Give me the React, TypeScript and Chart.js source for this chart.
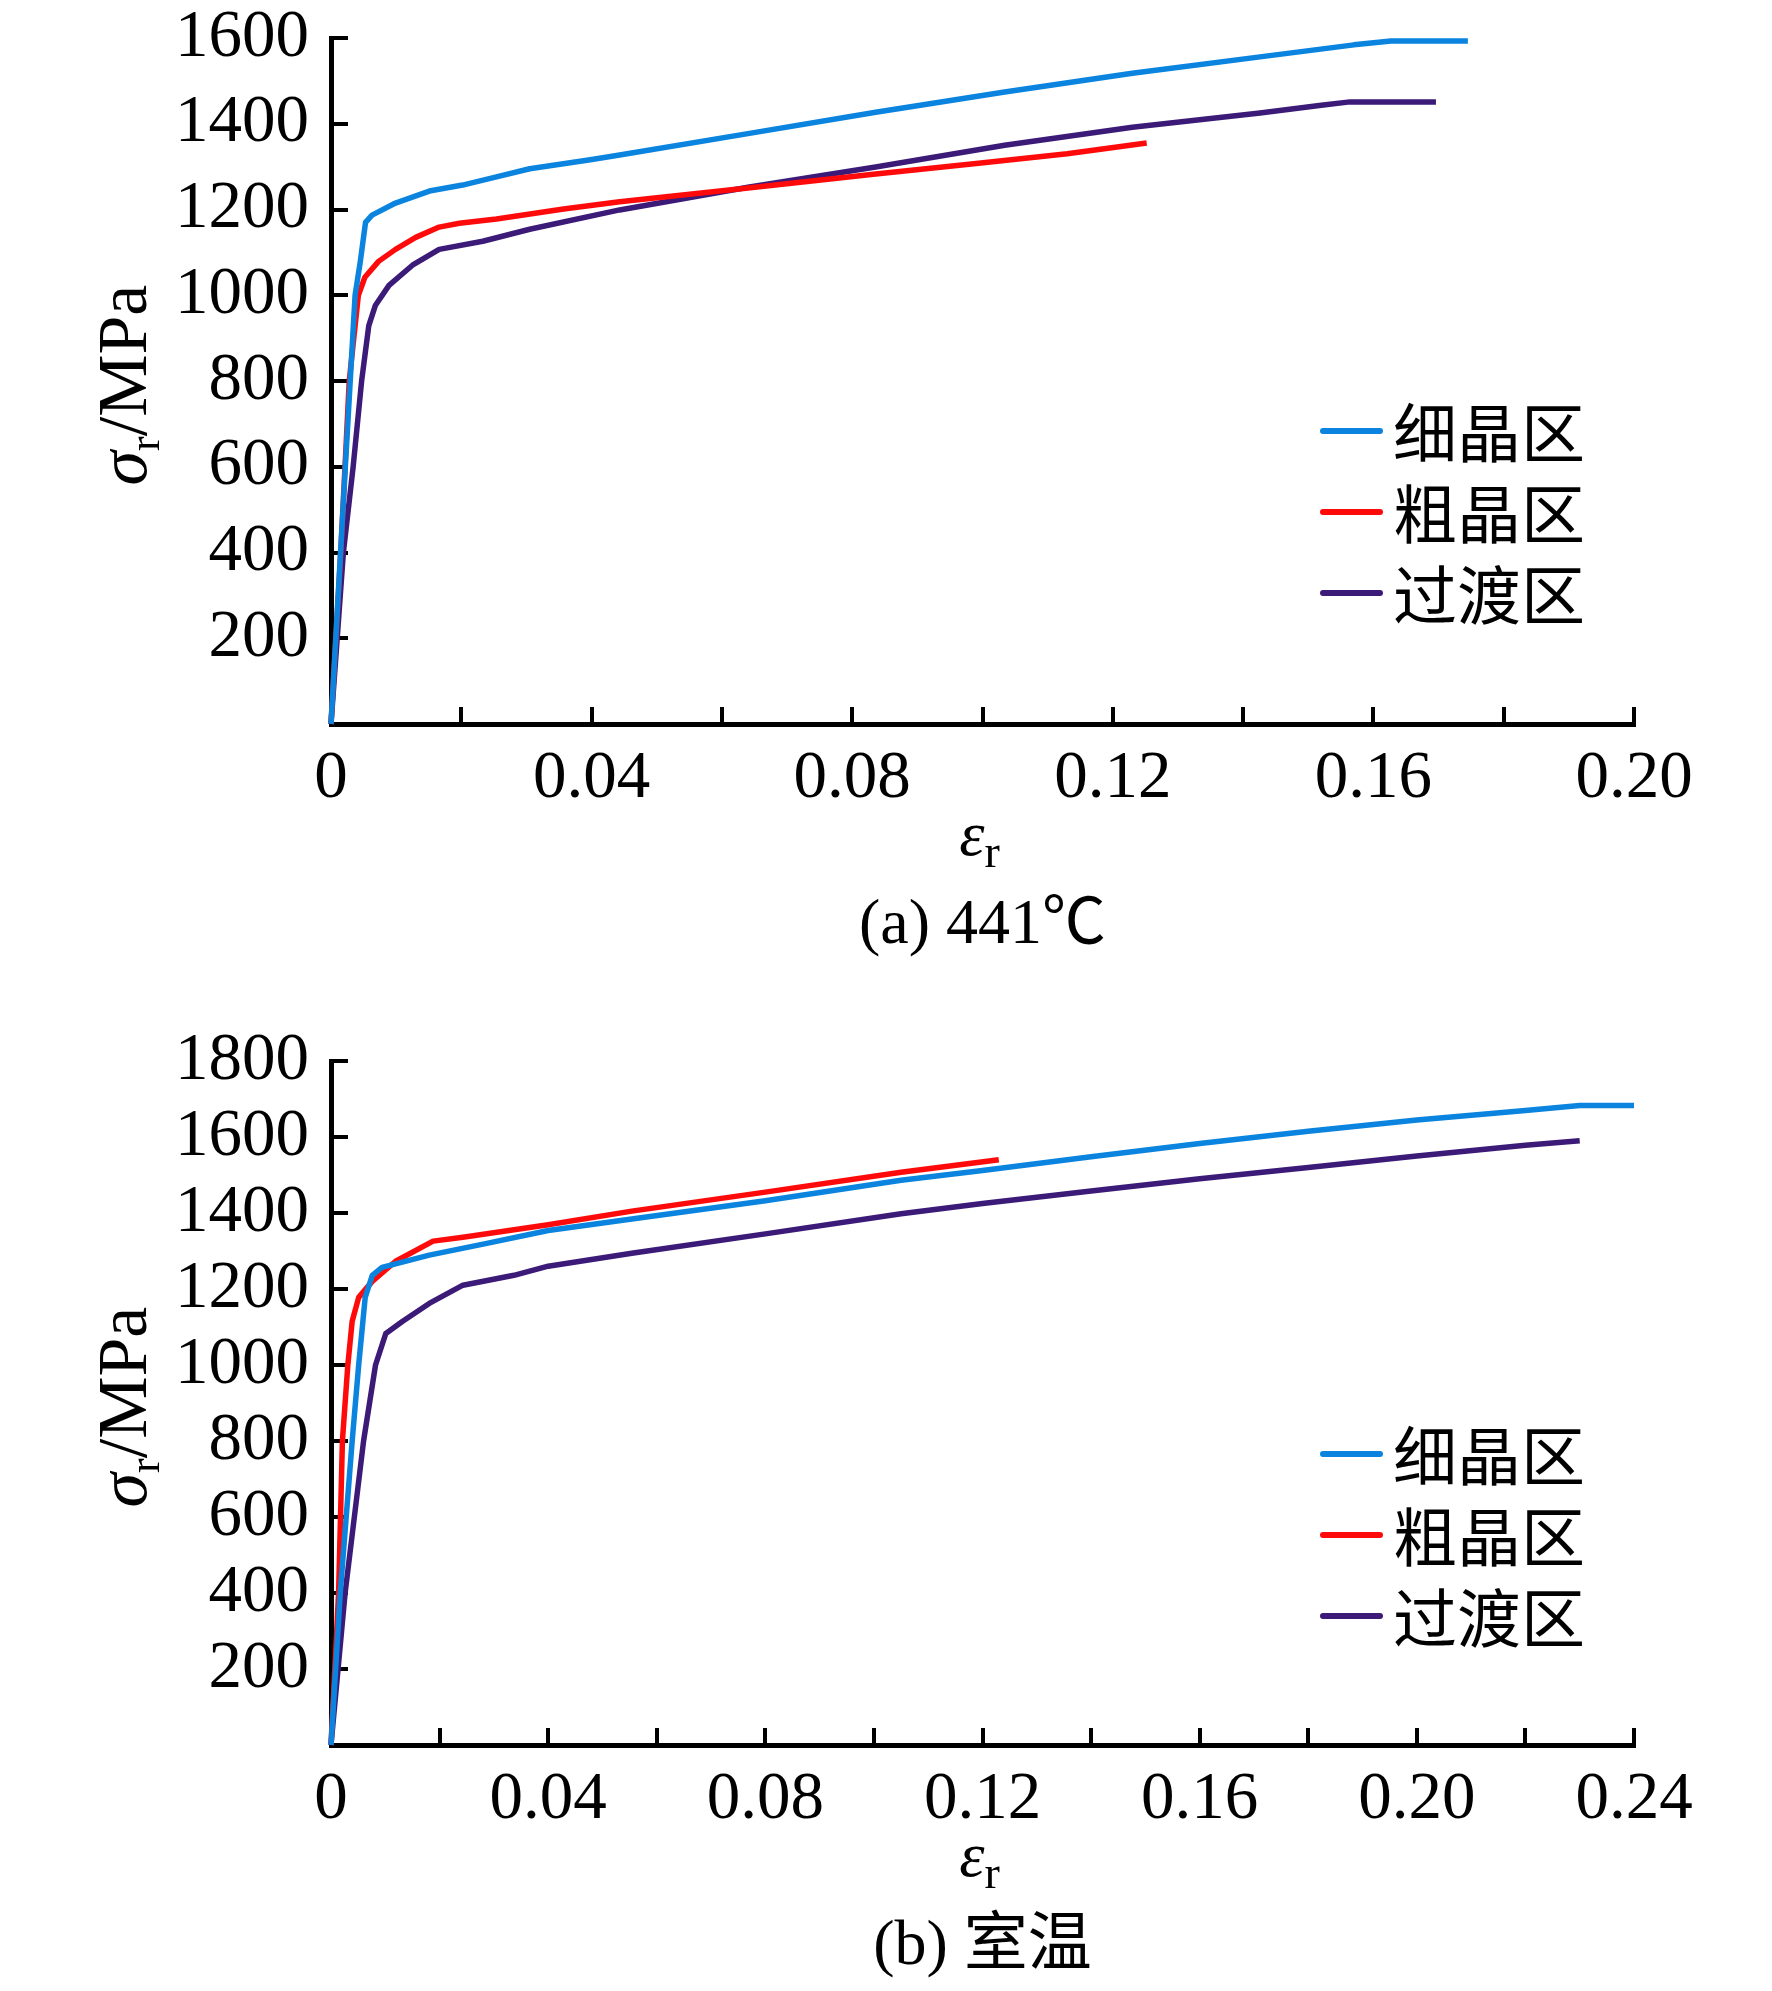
import { useEffect, useRef } from "react";
import { Chart, registerables, type Plugin } from "chart.js";

Chart.register(...registerables);

const SERIF = "'Liberation Serif', 'Times New Roman', serif";
const CJK = "'Noto Sans CJK SC', sans-serif";

const seriesNames = ["细晶区", "粗晶区", "过渡区"];
const seriesColors = ["#0A84DE", "#FF0A0A", "#3C1A78"];

// (a) 441 ℃ — strain / stress (MPa)
const fineStrainA = [0, 0.0022, 0.0037, 0.0045, 0.0053, 0.0063, 0.0099, 0.0151, 0.0202, 0.0254, 0.0305, 0.0398, 0.0443, 0.064, 0.0836, 0.1034, 0.123, 0.1426, 0.157, 0.1627, 0.1745];
const fineStressA = [0, 600, 1000, 1079, 1170, 1187, 1215, 1243, 1257, 1276, 1295, 1316, 1327, 1377, 1427, 1474, 1518, 1556, 1584, 1593, 1593];
const coarseStrainA = [0, 0.0015, 0.0028, 0.0042, 0.0052, 0.0073, 0.0099, 0.013, 0.0166, 0.0197, 0.0254, 0.0357, 0.0443, 0.064, 0.0836, 0.0994, 0.113, 0.1252];
const coarseStressA = [0, 400, 800, 1000, 1042, 1079, 1107, 1135, 1159, 1168, 1178, 1201, 1218, 1250, 1283, 1308, 1330, 1355];
const transStrainA = [0, 0.0019, 0.0034, 0.0047, 0.0058, 0.0068, 0.0089, 0.0125, 0.0166, 0.0233, 0.0305, 0.0443, 0.064, 0.0836, 0.1034, 0.123, 0.1426, 0.152, 0.1564, 0.1696];
const transStressA = [0, 400, 600, 800, 929, 976, 1023, 1070, 1107, 1126, 1154, 1199, 1252, 1299, 1350, 1392, 1425, 1443, 1451, 1451];

// (b) 室温 — strain / stress (MPa)
const fineStrainB = [0, 0.0017, 0.0039, 0.0051, 0.0063, 0.0076, 0.0094, 0.0181, 0.0287, 0.04, 0.0554, 0.08, 0.105, 0.12, 0.14, 0.16, 0.18, 0.2, 0.22, 0.23, 0.24];
const fineStressB = [0, 400, 800, 1000, 1178, 1236, 1257, 1289, 1320, 1354, 1384, 1432, 1486, 1512, 1548, 1583, 1615, 1645, 1670, 1683, 1683];
const coarseStrainB = [0, 0.0014, 0.0021, 0.0031, 0.0039, 0.0051, 0.0076, 0.0119, 0.0188, 0.0243, 0.04, 0.0554, 0.08, 0.105, 0.123];
const coarseStressB = [0, 400, 800, 1000, 1115, 1178, 1220, 1273, 1326, 1336, 1369, 1405, 1455, 1507, 1540];
const transStrainB = [0, 0.0026, 0.006, 0.0082, 0.0101, 0.0132, 0.0181, 0.0243, 0.0337, 0.04, 0.0554, 0.08, 0.105, 0.12, 0.14, 0.16, 0.18, 0.2, 0.22, 0.23];
const transStressB = [0, 400, 800, 1000, 1083, 1115, 1162, 1210, 1236, 1260, 1294, 1345, 1398, 1425, 1458, 1490, 1520, 1550, 1578, 1590];

const xStep = 0.02;
const yStep = 200;

type Run = { text: string; font: string; dy?: number };

function drawRuns(ctx: CanvasRenderingContext2D, runs: Run[], cx: number, baseline: number) {
  let total = 0;
  const widths = runs.map((r) => {
    ctx.font = r.font;
    const w = ctx.measureText(r.text).width;
    total += w;
    return w;
  });
  let x = cx - total / 2;
  ctx.textAlign = "left";
  ctx.textBaseline = "alphabetic";
  runs.forEach((r, i) => {
    ctx.font = r.font;
    ctx.fillText(r.text, x, baseline + (r.dy ?? 0));
    x += widths[i];
  });
}

// axis titles with subscripts, caption and the legend block
function decorations(caption: string): Plugin<"scatter"> {
  return {
    id: "decorations",
    afterDraw(chart) {
      const { ctx, chartArea: a } = chart;
      const midX = (a.left + a.right) / 2;
      ctx.save();
      ctx.fillStyle = "#000";

      ctx.save();
      ctx.translate(a.left - 185, (a.top + a.bottom) / 2 + 4);
      ctx.rotate(-Math.PI / 2);
      drawRuns(ctx, [
        { text: "σ", font: `italic 70px ${SERIF}` },
        { text: "r", font: `44px ${SERIF}`, dy: 13 },
        { text: "/MPa", font: `70px ${SERIF}` },
      ], 0, 0);
      ctx.restore();

      drawRuns(ctx, [
        { text: "ε", font: `italic 64px ${SERIF}` },
        { text: "r", font: `46px ${SERIF}`, dy: 12 },
      ], midX - 3, a.bottom + 131);

      drawRuns(ctx, [{ text: caption, font: `64px ${SERIF}, ${CJK}` }], midX, a.bottom + 219);

      chart.data.datasets.forEach((ds, i) => {
        const y = a.top + 393 + i * 81;
        ctx.strokeStyle = ds.borderColor as string;
        ctx.lineWidth = 6;
        ctx.lineCap = "round";
        ctx.beginPath();
        ctx.moveTo(a.left + 992, y);
        ctx.lineTo(a.left + 1049, y);
        ctx.stroke();
        ctx.font = `64px ${CJK}`;
        ctx.textAlign = "left";
        ctx.textBaseline = "middle";
        ctx.fillText(ds.label ?? "", a.left + 1062, y + 2);
      });
      ctx.restore();
    },
  };
}

type PanelProps = {
  strains: number[][];
  stresses: number[][];
  xMax: number;
  yMax: number;
  caption: string;
  height: number;
  plotTop: number;
  plotBottom: number;
};

const WIDTH = 1772;
const PLOT_LEFT = 331;
const PLOT_RIGHT = 1634;

function Panel({ strains, stresses, xMax, yMax, caption, height, plotTop, plotBottom }: PanelProps) {
  const ref = useRef<HTMLCanvasElement>(null);

  useEffect(() => {
    if (!ref.current) return;
    const tickFont = { family: SERIF, size: 67 };
    const chart = new Chart(ref.current, {
      type: "scatter",
      data: {
        datasets: strains.map((xs, i) => ({
          label: seriesNames[i],
          data: xs.map((x, j) => ({ x, y: stresses[i][j] })),
          showLine: true,
          borderColor: seriesColors[i],
          backgroundColor: seriesColors[i],
          borderWidth: 5.5,
          borderJoinStyle: "round" as const,
          pointRadius: 0,
          tension: 0,
          clip: 6,
        })),
      },
      options: {
        responsive: false,
        devicePixelRatio: 1,
        animation: false,
        layout: { padding: { left: 0, top: plotTop, right: WIDTH - PLOT_RIGHT, bottom: 0 } },
        plugins: { legend: { display: false }, tooltip: { enabled: false } },
        scales: {
          x: {
            type: "linear",
            min: 0,
            max: xMax,
            ticks: {
              stepSize: xStep,
              autoSkip: false,
              maxRotation: 0,
              padding: 32,
              color: "#000",
              font: tickFont,
              callback: (v, i) => (i % 2 ? "" : Number(v) === 0 ? "0" : Number(v).toFixed(2)),
            },
            grid: { drawOnChartArea: false, drawTicks: true, tickLength: -17, color: "#000", lineWidth: 4 },
            border: { display: true, color: "#000", width: 5 },
            afterFit: (s) => {
              s.height = height - plotBottom;
              s.paddingLeft = 0;
              s.paddingRight = 0;
            },
          },
          y: {
            type: "linear",
            min: 0,
            max: yMax,
            ticks: {
              stepSize: yStep,
              autoSkip: false,
              padding: 39,
              color: "#000",
              font: tickFont,
              callback: (v) => (Number(v) === 0 ? "" : String(v)),
            },
            grid: { drawOnChartArea: false, drawTicks: true, tickLength: -17, color: "#000", lineWidth: 4 },
            border: { display: true, color: "#000", width: 5 },
            afterFit: (s) => {
              s.width = PLOT_LEFT;
              s.paddingTop = 0;
              s.paddingBottom = 0;
            },
          },
        },
      },
      plugins: [decorations(caption)],
    });
    return () => chart.destroy();
  }, [strains, stresses, xMax, yMax, caption, height, plotTop, plotBottom]);

  return <canvas ref={ref} width={WIDTH} height={height} style={{ display: "block", width: WIDTH, height }} />;
}

const strainsA = [fineStrainA, coarseStrainA, transStrainA];
const stressesA = [fineStressA, coarseStressA, transStressA];
const strainsB = [fineStrainB, coarseStrainB, transStrainB];
const stressesB = [fineStressB, coarseStressB, transStressB];

export default function App() {
  useEffect(() => {
    document.body.style.margin = "0";
    document.body.style.background = "#fff";
  }, []);

  return (
    <div style={{ width: WIDTH, height: 1991, background: "#fff" }}>
      <Panel strains={strainsA} stresses={stressesA} xMax={0.2} yMax={1600} caption="(a) 441℃" height={990} plotTop={38} plotBottom={724} />
      <Panel strains={strainsB} stresses={stressesB} xMax={0.24} yMax={1800} caption="(b) 室温" height={1001} plotTop={71} plotBottom={755} />
    </div>
  );
}
